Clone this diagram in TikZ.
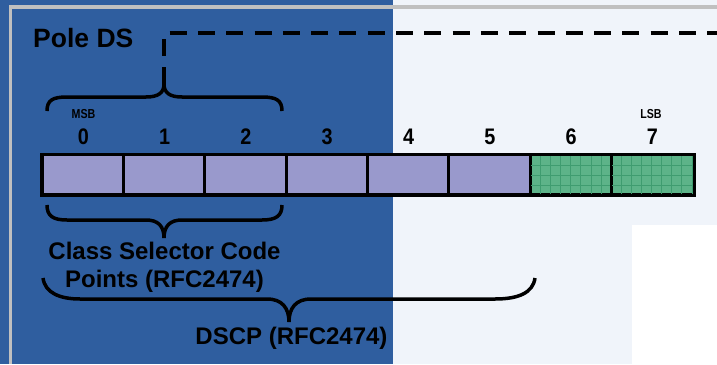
\documentclass[tikz,border=0pt]{standalone}
\usepackage{fontspec}
\setmainfont{Liberation Sans}
\usepackage{graphicx}
\usetikzlibrary{calc}
\definecolor{bgblue}{HTML}{2F5E9F}
\definecolor{bglight}{HTML}{F0F4FA}
\definecolor{rimgray}{HTML}{C0C0C0}
\definecolor{cellpurple}{HTML}{9999CC}
\definecolor{cellgreen}{HTML}{5DB389}
\definecolor{gridgreen}{HTML}{3F9C70}
\begin{document}
\begin{tikzpicture}[x=1pt,y=-1pt,
  lbl/.style={font=\bfseries\fontsize{24}{28}\selectfont, inner sep=0pt, anchor=base},
  titlelbl/.style={font=\bfseries\fontsize{26.5}{30}\selectfont, inner sep=0pt, anchor=base west},
  digit/.style={font=\bfseries\fontsize{22.5}{24}\selectfont, inner sep=0pt, anchor=base},
  tiny/.style={font=\bfseries\fontsize{13}{14}\selectfont, inner sep=0pt, anchor=base},
  cellp/.style={draw=black, line width=2pt, fill=cellpurple, minimum width=81.3pt, minimum height=39pt, inner sep=0pt},
  cellg/.style={cellp, fill=cellgreen},
  bracepath/.style={draw=black, line width=3.5pt},
  dashpath/.style={draw=black, line width=3.5pt, dash pattern=on 17pt off 11.3pt}
]
\useasboundingbox (0,0) rectangle (717,364);
% background
\fill[bgblue] (0,0) rectangle (717,364);
\fill[bglight] (393,0) rectangle (717,364);
\fill[white] (632,225) rectangle (717,364);
\fill[rimgray] (9,5) rectangle (717,8.5);
\fill[rimgray] (8.5,5) rectangle (12,364);

% cells
\foreach \i in {0,...,5} {
  \node[cellp] (c\i) at ({42.7+81.3*(\i+0.5)},174.5) {};
}
\foreach \i in {6,7} {
  \node[cellg] (c\i) at ({42.7+81.3*(\i+0.5)},174.5) {};
}
\begin{scope}
  \clip (530,155) rectangle (693,194);
  \foreach \x in {540.5,550.6,...,693} \draw[gridgreen, line width=0.9pt] (\x,155) -- (\x,194);
  \foreach \y in {165,175,185} \draw[gridgreen, line width=0.9pt] (530,\y) -- (693,\y);
\end{scope}
\foreach \i in {1,...,7} \draw[line width=2pt] (c\i.north west) -- (c\i.south west);
\draw[line width=3pt] (c0.north west) rectangle (c7.south east);

% digits
\foreach \i in {0,...,7} {
  \node[digit] (d\i) at ($(c\i.center)+(0,-30.5)$) {\scalebox{0.88}[1]{\i}};
}
\node[tiny] (msb) at (83.5,118) {\scalebox{0.82}[1]{MSB}};
\node[tiny] (lsb) at (651,118) {\scalebox{0.82}[1]{LSB}};

% title
\node[titlelbl] (title) at (33,47) {Pole DS};

% top brace (tip up)
\path[bracepath] (47,111) .. controls (47,100) and (53,97) .. (67,97) -- (146,97)
  .. controls (158,97) and (164,93) .. (164,84)
  .. controls (164,93) and (170,97) .. (182,97) -- (262,97)
  .. controls (276,97) and (282,100) .. (282,111);
\coordinate (tiptop) at (164,84);
\coordinate (dashcorner) at (164,33);
\coordinate (dashend) at (717,33);
\path[dashpath] (tiptop) -- (dashcorner) -- (dashend);

% class selector brace (tip down)
\path[bracepath] (47,205) .. controls (47,216) and (53,220) .. (67,220) -- (146,220)
  .. controls (158,220) and (164,226) .. (164,238)
  .. controls (164,226) and (170,220) .. (182,220) -- (262,220)
  .. controls (276,220) and (282,216) .. (282,205);
\node[lbl] (cs1) at (164.5,259) {Class Selector Code};
\node[lbl] (cs2) at (164.5,287) {Points (RFC2474)};

% DSCP brace
\path[bracepath] (43,278) .. controls (45,293) and (60,299) .. (80,299) -- (267,299)
  .. controls (282,299) and (289,308) .. (289,322)
  .. controls (289,308) and (296,299) .. (311,299) -- (495,299)
  .. controls (518,299) and (533,293) .. (535,278);
\node[lbl] (dscp) at (291.5,344) {DSCP (RFC2474)};
\end{tikzpicture}
\end{document}
